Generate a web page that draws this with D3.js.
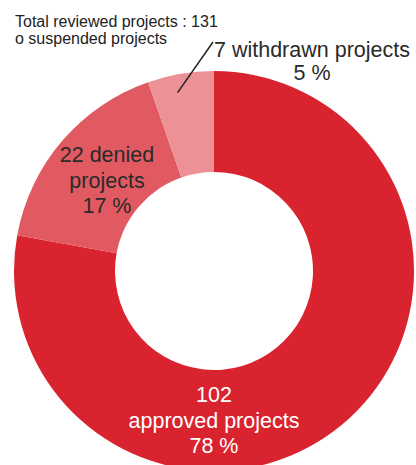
<!DOCTYPE html>
<html><head><meta charset="utf-8">
<script src="https://cdn.jsdelivr.net/npm/d3@7"></script>
<style>body{margin:0;background:#fff}svg{display:block}</style>
</head><body>
<svg id="c" width="416" height="465"></svg>
<script>
const categories = ["approved", "denied", "withdrawn"];
const counts = [102, 22, 7];
const percents = ["78 %", "17 %", "5 %"];
const total = 131;
const labelLines = [
  ["102", "approved projects", "78 %"],
  ["22 denied", "projects", "17 %"],
  ["7 withdrawn projects", "5 %"]
];
const notes = ["Total reviewed projects : 131", "o suspended projects"];
const colors = ["#d9232f", "#e15a62", "#ec9297"];

const FONT = "'Liberation Sans', Arial, Helvetica, sans-serif";
const svg = d3.select("#c");
const cx = 214, cy = 271, rOuter = 200, rInner = 99;
const g = svg.append("g").attr("transform", `translate(${cx},${cy})`);
const pie = d3.pie().sort(null).value(d => d)(counts);
const arc = d3.arc().innerRadius(rInner).outerRadius(rOuter);
g.selectAll("path").data(pie).join("path")
  .attr("d", arc).attr("fill", (d, i) => colors[i]);

// notes
svg.selectAll("text.note").data(notes).join("text").attr("class", "note")
  .attr("font-family", FONT)
  .attr("x", 15).attr("y", (d, i) => 27 + i * 17)
  .attr("font-size", 16).attr("fill", "#222").text(d => d);

// approved label
const ap = svg.append("text").attr("font-family", FONT).attr("text-anchor", "middle").attr("fill", "#fff").attr("font-size", 21.5);
labelLines[0].forEach((t, i) => ap.append("tspan").attr("x", 214).attr("y", 402 + i * 25.5).text(t));

// denied label
const dn = svg.append("text").attr("font-family", FONT).attr("text-anchor", "middle").attr("fill", "#2a2a2a").attr("font-size", 21.5);
labelLines[1].forEach((t, i) => dn.append("tspan").attr("x", 107).attr("y", 162 + i * 25.5).text(t));

// withdrawn label
const wd = svg.append("text").attr("font-family", FONT).attr("text-anchor", "middle").attr("fill", "#2a2a2a").attr("font-size", 21.5);
labelLines[2].forEach((t, i) => wd.append("tspan").attr("x", 312).attr("y", 57 + i * 23).text(t));

// leader line
const a = pie[2].startAngle + 0.4 * (pie[2].endAngle - pie[2].startAngle);
const rp = 182;
svg.append("line")
  .attr("x1", cx + rp * Math.sin(a)).attr("y1", cy - rp * Math.cos(a))
  .attr("x2", 213).attr("y2", 42)
  .attr("stroke", "#222").attr("stroke-width", 1.5);
</script>
</body></html>
